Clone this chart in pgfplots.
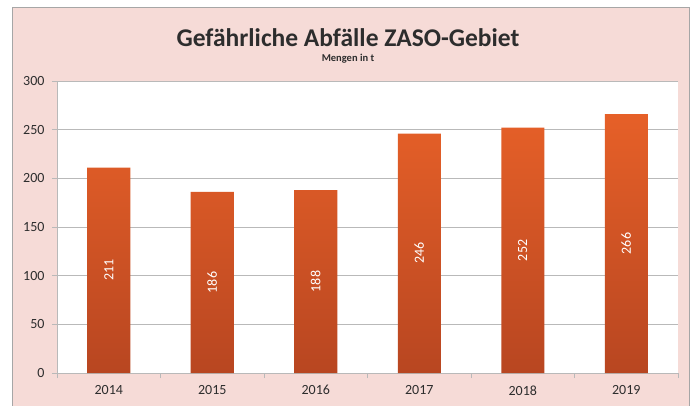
\documentclass[border=0pt]{standalone}
\usepackage{pgfplots}
\pgfplotsset{compat=1.18}
\usepackage{fontspec}
\setmainfont{Carlito}
\definecolor{bgpink}{RGB}{246,219,215}
\definecolor{gridgray}{RGB}{185,185,185}
\definecolor{bartop}{RGB}{230,96,40}
\definecolor{barbot}{RGB}{184,70,33}
\definecolor{txt}{RGB}{45,45,45}
\begin{document}
\begin{tikzpicture}[x=1pt,y=1pt]
\useasboundingbox (0,0) rectangle (696,405);
\fill[white] (0,0) rectangle (696,405);
\filldraw[fill=bgpink, draw=gray!70, line width=0.8pt] (12,-2) rectangle (689,398);
\node[font=\bfseries\fontsize{25.5}{28}\selectfont, text=txt] at (348,367) {Gefährliche Abfälle ZASO-Gebiet};
\node[font=\bfseries\fontsize{10.5}{12}\selectfont, text=txt] at (348,346) {Mengen in t};
\begin{axis}[at={(57pt,32pt)}, anchor=south west, scale only axis,
  width=621pt, height=292pt,
  xmin=-0.5, xmax=5.5, ymin=0, ymax=300,
  ytick={0,50,...,300},
  xtick={0,...,5}, xticklabels={2014,2015,2016,2017,2018,2019},
  minor xtick={-0.5,0.5,...,5.5},
  axis background/.style={fill=white},
  axis x line*=bottom, axis y line*=left,
  axis line style={gridgray, line width=0.8pt},
  tick align=outside,
  major tick length=5pt, minor tick length=5pt,
  major x tick style={draw=none},
  minor x tick style={gridgray, line width=0.8pt},
  ytick style={gridgray, line width=0.8pt},
  ymajorgrids, grid style={gridgray, line width=0.8pt},
  ticklabel style={font=\fontsize{14}{16}\selectfont, text=txt},
  xticklabel style={yshift=-4pt},
  yticklabel style={xshift=-4pt},
  /pgf/number format/assume math mode=true,
  clip=false,
]
\addplot[ybar, bar width=43pt, draw=none, top color=bartop, bottom color=barbot,
  nodes near coords,
  visualization depends on=rawy\as\rawy,
  every node near coord/.append style={yshift={-0.48667pt*\rawy}, rotate=90, anchor=center, text=white, font=\fontsize{14}{16}\selectfont}]
  coordinates {(0,211) (1,186) (2,188) (3,246) (4,252) (5,266)};
\end{axis}
\end{tikzpicture}
\end{document}
